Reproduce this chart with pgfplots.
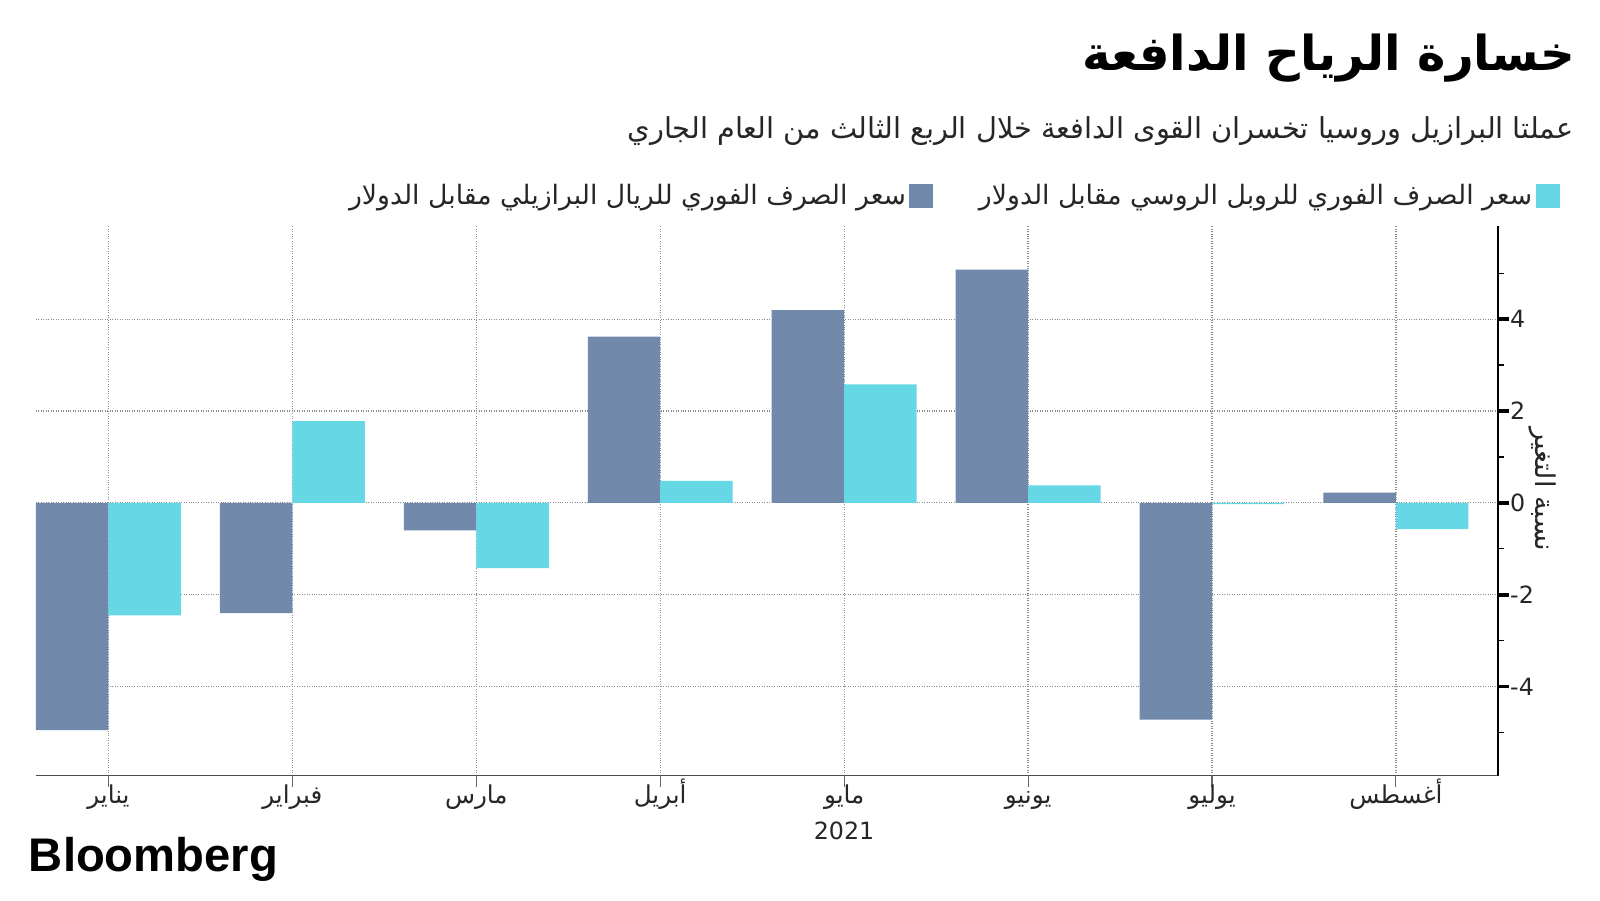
\documentclass[border=0pt]{standalone}
\usepackage{fontspec}
\usepackage{pgfplots}
\pgfplotsset{compat=1.18}
\setmainfont{DejaVu Sans}
\newfontfamily\arabicfont[Script=Arabic]{DejaVu Sans}
\newfontfamily\logofont{Liberation Sans}
\TeXXeTstate=1
\newcommand{\AR}[1]{{\arabicfont\beginR #1\endR}}
\definecolor{slate}{HTML}{7189AA}
\definecolor{cyanbar}{HTML}{66D8E5}
\definecolor{gridgray}{HTML}{8C8C8C}

\begin{document}
\begin{tikzpicture}
\useasboundingbox (0,0) rectangle (32cm,18cm);
\begin{axis}[
  at={(0.72cm,2.49cm)}, anchor=south west,
  scale only axis, width=29.24cm, height=10.98cm,
  xmin=-0.394, xmax=7.555, ymin=-5.94, ymax=6.02,
  ybar=0pt, bar width=0.394,
  axis x line*=bottom, axis y line*=right,
  x axis line style={draw=black!70, line width=0.8pt},
  y axis line style={draw=black, line width=1.2pt},
  xtick={0,1,2,3,4,5,6,7},
  xticklabels={\AR{يناير},\AR{فبراير},\AR{مارس},\AR{أبريل},\AR{مايو},\AR{يونيو},\AR{يوليو},\AR{أغسطس}},
  ytick={-4,-2,0,2,4},
  minor ytick={-5,-3,-1,1,3,5},
  tick align=outside,
  major tick length=0.22cm, minor tick length=0.12cm,
  xtick style={draw=black!60, line width=0.6pt},
  ytick style={draw=black, line width=0.8pt},
  every major y tick/.append style={line width=2.2pt},
  xmajorgrids, ymajorgrids,
  major grid style={densely dotted, draw=gridgray, line width=0.7pt},
  /pgf/number format/assume math mode=true,
  ticklabel style={font=\fontsize{13.5}{16}\selectfont, text=black!85},
  yticklabel style={anchor=west, xshift=-0.1cm},
  xticklabel style={font=\fontsize{14}{17}\selectfont, text=black!85, anchor=north, text height=0.34cm, text depth=0.1cm, yshift=0.12cm},
  xlabel={2021},
  xlabel style={at={(ticklabel cs:0.5527)}, anchor=north, yshift=-0.02cm, font=\fontsize{13.5}{16}\selectfont, text=black!85},
  legend plot pos=right,
  legend columns=2,
  legend style={at={(1.046,1.0556)}, anchor=east, draw=none, fill=none,
    font=\fontsize{15.2}{18}\selectfont, text=black!85,
    /tikz/every even column/.append style={column sep=0.84cm}},
  legend image code/.code={\fill[#1] (0cm,-0.24cm) rectangle (0.48cm,0.24cm);},
]
\addplot[fill=slate, draw=none] coordinates {
(0,-4.95) (1,-2.40) (2,-0.60) (3,3.62) (4,4.20) (5,5.08) (6,-4.72) (7,0.22)};
\addlegendentry{\AR{سعر الصرف الفوري للريال البرازيلي مقابل الدولار}}
\addplot[fill=cyanbar, draw=none] coordinates {
(0,-2.45) (1,1.78) (2,-1.42) (3,0.48) (4,2.58) (5,0.38) (6,-0.03) (7,-0.57)};
\addlegendentry{\AR{سعر الصرف الفوري للروبل الروسي مقابل الدولار}}
\end{axis}
\node[anchor=east, inner sep=0] at (31.52cm,16.84cm)
  {\fontsize{27.4}{33}\selectfont\arabicfont\bfseries\beginR خسارة الرياح الدافعة\endR};
\node[anchor=east, inner sep=0, text=black!85] at (31.48cm,15.38cm)
  {\fontsize{16.4}{20}\selectfont\arabicfont\beginR عملتا البرازيل وروسيا تخسران القوى الدافعة خلال الربع الثالث من العام الجاري\endR};
\node[rotate=-90, inner sep=0, text=black!85] at (30.86cm,8.22cm)
  {\fontsize{15.5}{18}\selectfont\arabicfont\beginR نسبة التغير\endR};
\node[anchor=west, inner sep=0] at (0.572cm,0.81cm)
  {\resizebox{4.98cm}{!}{\logofont\bfseries Bloomberg}};
\end{tikzpicture}
\end{document}
